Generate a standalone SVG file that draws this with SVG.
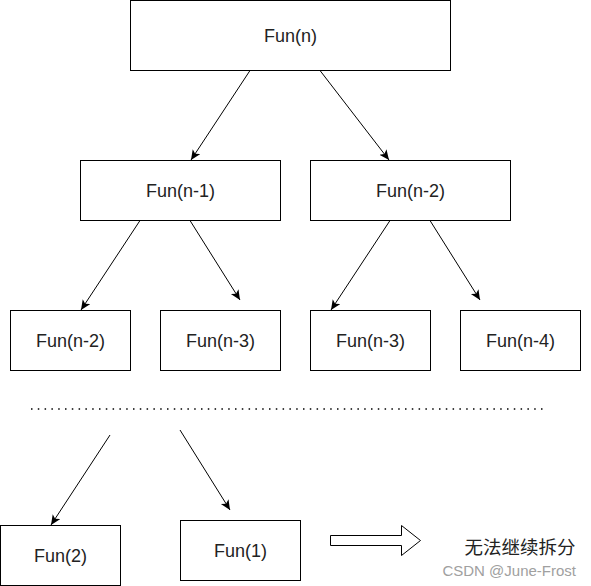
<svg xmlns="http://www.w3.org/2000/svg" width="591" height="586" viewBox="0 0 591 586">
<style>
.box{fill:#fff;stroke:#000;stroke-width:1}
.lbl{font-family:"Liberation Sans",Arial,sans-serif;font-size:18px;fill:#222;text-anchor:middle;dominant-baseline:central}
.edge{fill:none;stroke:#000;stroke-width:1;marker-end:url(#arr)}
</style>
<defs>
<marker id="arr" markerUnits="userSpaceOnUse" markerWidth="12" markerHeight="10" refX="10" refY="4.5" orient="auto" viewBox="0 0 12 10">
<path d="M0,0 L10,4.5 L0,9 L2.5,4.5 Z" fill="#000"/>
</marker>
</defs>
<rect width="591" height="586" fill="#fff"/>
<g id="connectors">
<line class="edge" x1="250" y1="70.5" x2="191" y2="160"/>
<line class="edge" x1="320" y1="70.5" x2="389" y2="160"/>
<line class="edge" x1="140" y1="220.5" x2="81" y2="310"/>
<line class="edge" x1="190" y1="220.5" x2="240" y2="300"/>
<line class="edge" x1="390" y1="220.5" x2="331" y2="310"/>
<line class="edge" x1="430" y1="220.5" x2="480" y2="300"/>
<line class="edge" x1="110" y1="435" x2="51" y2="525"/>
<line class="edge" x1="180" y1="430" x2="230" y2="510"/>
</g>
<g id="n0"><rect class="box" x="130.5" y="0.5" width="320" height="70"/><text class="lbl" x="290.5" y="35.5">Fun(n)</text></g>
<g id="n1"><rect class="box" x="80.5" y="160.5" width="200" height="60"/><text class="lbl" x="180.5" y="190.5">Fun(n-1)</text></g>
<g id="n2"><rect class="box" x="310.5" y="160.5" width="200" height="60"/><text class="lbl" x="410.5" y="190.5">Fun(n-2)</text></g>
<g id="n3"><rect class="box" x="10.5" y="310.5" width="120" height="60"/><text class="lbl" x="70.5" y="340.5">Fun(n-2)</text></g>
<g id="n4"><rect class="box" x="160.5" y="310.5" width="120" height="60"/><text class="lbl" x="220.5" y="340.5">Fun(n-3)</text></g>
<g id="n5"><rect class="box" x="310.5" y="310.5" width="120" height="60"/><text class="lbl" x="370.5" y="340.5">Fun(n-3)</text></g>
<g id="n6"><rect class="box" x="460.5" y="310.5" width="120" height="60"/><text class="lbl" x="520.5" y="340.5">Fun(n-4)</text></g>
<g id="dots"><line x1="31" y1="409" x2="546" y2="409" stroke="#000" stroke-width="1.5" stroke-dasharray="1.5 5.3"/></g>
<g id="n7"><rect class="box" x="0.5" y="525.5" width="120" height="60"/><text class="lbl" x="60.5" y="555.5">Fun(2)</text></g>
<g id="n8"><rect class="box" x="180.5" y="520.5" width="120" height="60"/><text class="lbl" x="240.5" y="550.5">Fun(1)</text></g>
<g id="bigarrow"><path d="M330.5,535.5 L401.5,535.5 L401.5,525.5 L420.5,540.5 L401.5,555.5 L401.5,545.5 L330.5,545.5 Z" fill="#fff" stroke="#000" stroke-width="1"/></g>
<g id="note"><text x="520" y="546" font-family="'Noto Sans CJK SC',sans-serif" font-size="18.5" fill="#222" text-anchor="middle" dominant-baseline="central">无法继续拆分</text></g>
<text x="576" y="576" font-family="'Liberation Sans',Arial,sans-serif" font-size="15" fill="#a0a0a0" text-anchor="end">CSDN @June-Frost</text>
</svg>
